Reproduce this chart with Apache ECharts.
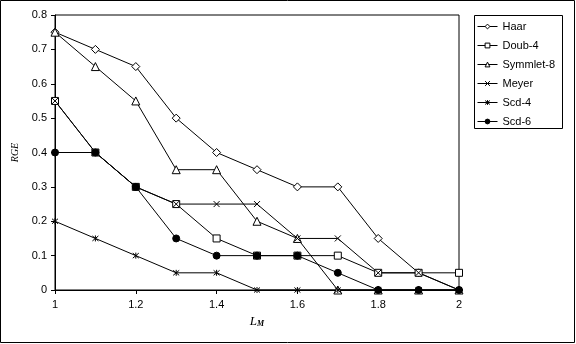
<!DOCTYPE html>
<html>
<head>
<meta charset="utf-8">
<script src="https://cdn.jsdelivr.net/npm/echarts@6/dist/echarts.min.js"></script>
<style>html,body{margin:0;padding:0;background:#fff}#c{width:576px;height:344px}</style>
</head>
<body>
<div id="c"></div>
<script>
const xValues = [1, 1.1, 1.2, 1.3, 1.4, 1.5, 1.6, 1.7, 1.8, 1.9, 2];
const haar     = [0.75, 0.7, 0.65, 0.5, 0.4, 0.35, 0.3, 0.3, 0.15, 0.05, 0];
const doub4    = [0.55, 0.4, 0.3, 0.25, 0.15, 0.1, 0.1, 0.1, 0.05, 0.05, 0.05];
const symmlet8 = [0.75, 0.65, 0.55, 0.35, 0.35, 0.2, 0.15, 0, 0, 0, 0];
const meyer    = [0.55, 0.4, 0.3, 0.25, 0.25, 0.25, 0.15, 0.15, 0.05, 0.05, 0];
const scd4     = [0.2, 0.15, 0.1, 0.05, 0.05, 0, 0, 0, 0, 0, 0];
const scd6     = [0.4, 0.4, 0.3, 0.15, 0.1, 0.1, 0.1, 0.05, 0, 0, 0];
const seriesNames = ['Haar', 'Doub-4', 'Symmlet-8', 'Meyer', 'Scd-4', 'Scd-6'];

const pair = arr => arr.map((v, i) => [xValues[i], v]);
const font = 'Liberation Sans, Arial, sans-serif';
const X_PATH = 'path://M0,0L10,10M10,0L0,10';
const AST_PATH = 'path://M0,0L10,10M10,0L0,10M5,-1L5,11';

const styles = [
  {symbol: 'diamond', size: 8, fill: '#fff'},
  {symbol: 'rect', size: 7, fill: '#fff'},
  {symbol: 'triangle', size: 8, fill: '#fff'},
  {symbol: X_PATH, size: 6, fill: '#000'},
  {symbol: AST_PATH, size: 6, fill: '#000'},
  {symbol: 'circle', size: 7, fill: '#000'}
];
const data = [haar, doub4, symmlet8, meyer, scd4, scd6];

const chart = echarts.init(document.getElementById('c'), null, {renderer: 'canvas'});
chart.setOption({
  animation: false,
  backgroundColor: '#fff',
  grid: {left: 55, right: 117, top: 15, bottom: 54, show: true, borderColor: '#000', borderWidth: 1, backgroundColor: 'transparent'},
  xAxis: {
    type: 'value', min: 1, max: 2, interval: 0.2,
    axisLine: {lineStyle: {color: '#000', width: 1}},
    axisTick: {show: true, length: 4, lineStyle: {color: '#000'}},
    splitLine: {show: false},
    axisLabel: {color: '#000', fontFamily: font, fontSize: 11, margin: 9, formatter: v => String(+v.toFixed(1))},
    name: '{a|L}{b|M}', nameLocation: 'middle', nameGap: 25,
    nameTextStyle: {rich: {
      a: {fontFamily: 'Liberation Serif, Times New Roman, serif', fontStyle: 'italic', fontSize: 13, color: '#000'},
      b: {fontFamily: 'Liberation Serif, Times New Roman, serif', fontStyle: 'italic', fontWeight: 'bold', fontSize: 8, color: '#000', verticalAlign: 'bottom', padding: [5, 0, 0, 0]}
    }}
  },
  yAxis: {
    type: 'value', min: 0, max: 0.8, interval: 0.1,
    axisLine: {show: true, lineStyle: {color: '#000', width: 1}},
    axisTick: {show: true, length: 4, lineStyle: {color: '#000'}},
    splitLine: {show: false},
    axisLabel: {color: '#000', fontFamily: font, fontSize: 11, margin: 8, formatter: v => String(+v.toFixed(1))},
    name: 'RGE', nameLocation: 'middle', nameGap: 30, nameRotate: 90,
    nameTextStyle: {fontFamily: 'Liberation Serif, Times New Roman, serif', fontStyle: 'italic', fontSize: 10, color: '#000'}
  },
  legend: {
    orient: 'vertical', left: 477, top: 21,
    padding: 0, itemGap: 8, itemWidth: 20, itemHeight: 6,
    lineStyle: {width: 1, color: '#000'},
    itemStyle: {borderWidth: 1, borderColor: '#000'},
    textStyle: {color: '#000', fontFamily: font, fontSize: 11},
    data: seriesNames
  },
  graphic: [
    {type: 'rect', shape: {x: 0.5, y: 0.5, width: 574, height: 342}, style: {fill: 'none', stroke: '#000', lineWidth: 1}, silent: true, z: 100},
    {type: 'rect', shape: {x: 474.5, y: 15.5, width: 88, height: 113}, style: {fill: 'none', stroke: '#000', lineWidth: 1}, silent: true, z: 100}
  ],
  series: seriesNames.map((n, i) => ({
    name: n, type: 'line', data: pair(data[i]),
    symbol: styles[i].symbol, symbolSize: styles[i].size, showAllSymbol: true,
    lineStyle: {color: '#000', width: 1},
    itemStyle: {color: styles[i].fill, borderColor: '#000', borderWidth: 1},
    emphasis: {disabled: true}
  }))
});
</script>
</body>
</html>
